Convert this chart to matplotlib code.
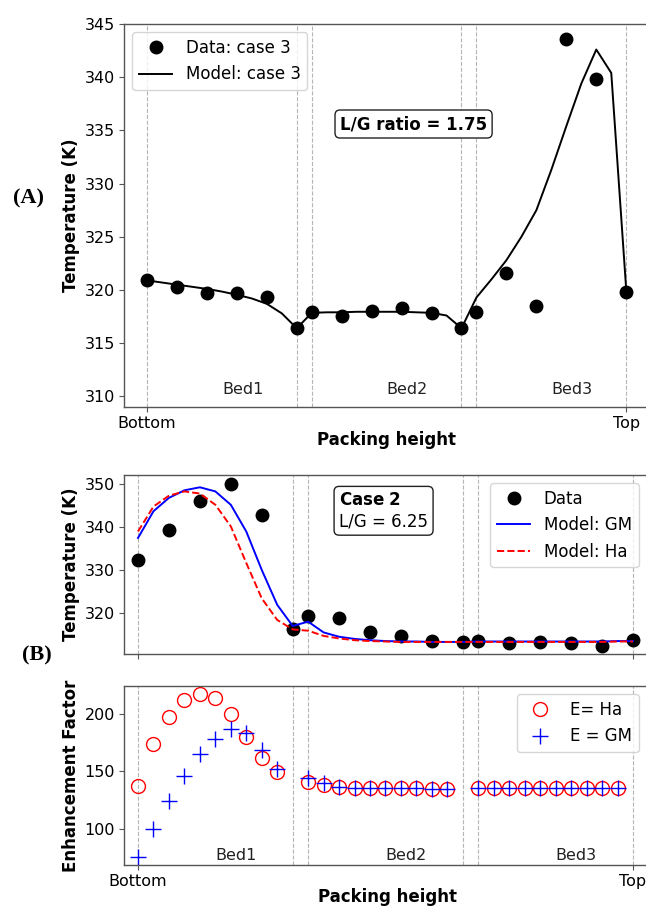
import matplotlib
matplotlib.use('Agg')
import matplotlib.pyplot as plt

plt.rcParams['font.family'] = 'DejaVu Sans'
plt.rcParams['font.size'] = 12

# Положення по висоті (умовні одиниці: шар 1 = 0..5, шар 2 = 5.5..10.5, шар 3 = 11..16)
bed_lines = [0, 5, 5.5, 10.5, 11, 16]
bed_names = ['Bed1', 'Bed2', 'Bed3']
bed_text_x = [2.5, 8.0, 13.5]

# ---- (A) case 3 ----
x_data = [0, 1, 2, 3, 4, 5, 5.5, 6.5, 7.5, 8.5, 9.5, 10.5, 11, 12, 13, 14, 15, 16]
tA_data = [320.95, 320.3, 319.7, 319.7, 319.35, 316.4, 317.95, 317.6, 318.0, 318.3,
           317.8, 316.4, 317.95, 321.6, 318.45, 343.55, 339.85, 319.85]

x_model = [0, 0.5, 1, 1.5, 2, 2.5, 3, 3.5, 4, 4.5, 5,
           5.5, 6, 6.5, 7, 7.5, 8, 8.5, 9, 9.5, 10, 10.5,
           11, 11.5, 12, 12.5, 13, 13.5, 14, 14.5, 15, 15.5, 16]
tA_model = [320.9, 320.7, 320.5, 320.3, 320.1, 319.85, 319.55, 319.2, 318.7, 317.8, 316.4,
            317.85, 317.9, 317.9, 317.95, 317.95, 317.95, 317.95, 317.9, 317.85, 317.6, 316.4,
            319.3, 321.0, 322.8, 325.0, 327.5, 331.3, 335.4, 339.4, 342.6, 340.4, 320.0]

# ---- (B) case 2 ----
tB_data = [332.3, 339.2, 346.0, 350.0, 342.8, 316.3, 319.2, 318.9, 315.7, 314.7,
           313.5, 313.3, 313.5, 313.1, 313.3, 313.1, 312.3, 313.7]
tB_gm = [337.4, 343.6, 346.7, 348.45, 349.15, 348.2, 345.1, 338.9, 330.0, 321.9, 317.0,
         318.0, 315.5, 314.5, 314.0, 313.7, 313.5, 313.4, 313.4, 313.3, 313.3, 313.3,
         313.4, 313.4, 313.4, 313.4, 313.4, 313.4, 313.4, 313.4, 313.4, 313.5, 313.5]
tB_ha = [338.9, 344.7, 347.2, 348.2, 347.7, 345.1, 340.1, 331.6, 323.4, 318.4, 316.2,
         315.9, 314.7, 314.1, 313.7, 313.5, 313.4, 313.3, 313.3, 313.3, 313.3, 313.3,
         313.3, 313.3, 313.3, 313.3, 313.3, 313.3, 313.3, 313.3, 313.3, 313.4, 313.4]

# Коефіцієнт підсилення
x_enh = [0, 0.5, 1, 1.5, 2, 2.5, 3, 3.5, 4, 4.5,
         5.5, 6, 6.5, 7, 7.5, 8, 8.5, 9, 9.5, 10,
         11, 11.5, 12, 12.5, 13, 13.5, 14, 14.5, 15, 15.5]
e_ha = [137.5, 173.8, 197.7, 212.2, 217.4, 213.7, 200.3, 180.2, 161.9, 149.1,
        141.0, 138.1, 136.6, 135.8, 135.8, 135.2, 135.2, 135.2, 134.9, 134.9,
        135.8, 135.8, 135.8, 135.8, 135.8, 135.8, 135.8, 135.8, 135.8, 135.8]
e_gm = [75.6, 100.0, 124.1, 146.2, 164.8, 178.5, 186.9, 183.7, 168.6, 152.0,
        143.9, 139.5, 136.6, 135.8, 135.6, 135.4, 135.3, 135.2, 135.0, 135.0,
        135.8, 135.8, 135.8, 135.8, 135.8, 135.8, 135.8, 135.8, 135.8, 135.8]

W, H = 646, 907
fig = plt.figure(figsize=(W / 100, H / 100), dpi=100)
# праві краї осей трохи за межами картинки (як в оригіналі - обрізано)
axA = fig.add_axes([124 / W, 1 - 407 / H, 525 / W, 383 / H])
axB1 = fig.add_axes([124 / W, 1 - 654 / H, 526 / W, 179 / H])
axB2 = fig.add_axes([124 / W, 1 - 865 / H, 526 / W, 179 / H])


def style(ax):
    for x in bed_lines:
        ax.axvline(x, color='#b5b5b5', ls='--', lw=0.8, zorder=0)
    for s in ax.spines.values():
        s.set_color('#555555')
        s.set_linewidth(1.0)
    ax.tick_params(direction='out', length=3.5, color='#555555', labelsize=11.5, pad=3)
    ax.set_xticks([0, 16])
    ax.set_xticklabels(['Bottom', 'Top'])


# Графік (A)
style(axA)
axA.plot(x_data, tA_data, 'o', color='black', ms=9, label='Data: case 3')
axA.plot(x_model, tA_model, '-', color='black', lw=1.4, label='Model: case 3')
axA.set_xlim(-0.768, 16.76)
axA.set_ylim(309, 345)
axA.set_yticks([310, 315, 320, 325, 330, 335, 340, 345])
for name, xt in zip(bed_names, bed_text_x):
    axA.text(xt, 310.6, name, ha='left', va='center', fontsize=11.5, color='#222222')
axA.text(8.9, 335.6, 'L/G ratio = 1.75', ha='center', va='center', fontsize=12, weight='bold',
         bbox=dict(boxstyle='round,pad=0.3', fc='white', ec='#222222', lw=1))
axA.legend(loc='upper left', fontsize=12)
axA.set_ylabel('Temperature (K)', weight='bold', fontsize=12)
axA.yaxis.set_label_coords(-0.084, 0.5)
axA.set_xlabel('Packing height', weight='bold', fontsize=12)
axA.xaxis.set_label_coords(0.5, -0.063)

# Графік (B) - температура
style(axB1)
axB1.plot(x_data, tB_data, 'o', color='black', ms=9, label='Data')
axB1.plot(x_model, tB_gm, '-', color='blue', lw=1.4, label='Model: GM')
axB1.plot(x_model, tB_ha, '--', color='red', lw=1.4, label='Model: Ha')
axB1.set_xlim(-0.4525, 16.55)
axB1.set_ylim(310.5, 352)
axB1.set_yticks([320, 330, 340, 350])
axB1.tick_params(labelbottom=False)
axB1.text(6.5, 348.2, r'$\mathbf{Case\ 2}$' + '\nL/G = 6.25', ha='left', va='top', fontsize=12,
          linespacing=1.2,
          bbox=dict(boxstyle='round,pad=0.3', fc='white', ec='#222222', lw=1))
axB1.legend(loc='upper right', fontsize=12, bbox_to_anchor=(0.994, 1.0))
axB1.set_ylabel('Temperature (K)', weight='bold', fontsize=12)
axB1.yaxis.set_label_coords(-0.084, 0.5)

# Графік (B) - коефіцієнт підсилення
style(axB2)
axB2.plot(x_enh, e_ha, 'o', mfc='none', mec='red', mew=1.0, ms=10, label='E= Ha')
axB2.plot(x_enh, e_gm, '+', color='blue', mew=1.0, ms=11, label='E = GM')
axB2.set_xlim(-0.4525, 16.55)
axB2.set_ylim(68.3, 224.4)
axB2.set_yticks([100, 150, 200])
for name, xt in zip(bed_names, bed_text_x):
    axB2.text(xt, 76.7, name, ha='left', va='center', fontsize=11.5, color='#222222')
axB2.legend(loc='upper right', fontsize=12, bbox_to_anchor=(0.994, 1.0))
axB2.set_ylabel('Enhancement Factor', weight='bold', fontsize=12)
axB2.yaxis.set_label_coords(-0.084, 0.5)
axB2.set_xlabel('Packing height', weight='bold', fontsize=12)
axB2.xaxis.set_label_coords(0.5, -0.131)

fig.text(29 / W, 1 - 198 / H, '(A)', ha='center', va='center', family='Liberation Serif',
         weight='bold', fontsize=16)
fig.text(37 / W, 1 - 655 / H, '(B)', ha='center', va='center', family='Liberation Serif',
         weight='bold', fontsize=16)

fig.savefig('out.png', dpi=100)
